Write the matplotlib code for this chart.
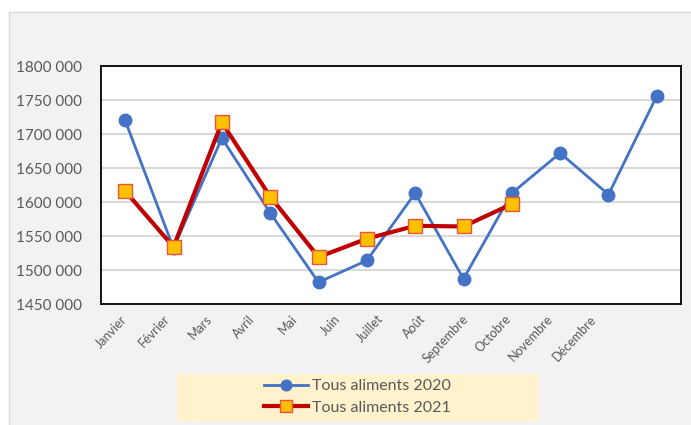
import matplotlib.pyplot as plt
import matplotlib.transforms as mtransforms
from matplotlib.patches import Rectangle
from matplotlib.ticker import FuncFormatter

plt.rcParams['font.family'] = ['Lato', 'DejaVu Sans']

mois = ['Janvier', 'Février', 'Mars', 'Avril', 'Mai', 'Juin', 'Juillet',
        'Août', 'Septembre', 'Octobre', 'Novembre', 'Décembre']
aliments_2020 = [1720000, 1532000, 1694000, 1584000, 1482000, 1514000,
                 1613000, 1487000, 1613000, 1672000, 1611000, 1756000]
aliments_2021 = [1616000, 1534000, 1717000, 1608000, 1519000, 1546000,
                 1565000, 1564000, 1597000]

W, H = 691, 425
gris_texte = '#595959'


def format_fr(v, pos):
    v = int(round(v))
    return f'{v // 1000} {v % 1000:03d}'


fig = plt.figure(figsize=(W / 100, H / 100), dpi=100, facecolor='white')

# fond gris du graphique + cadre legende
fig.patches.append(Rectangle((9 / W, -0.1), 1.1, 1.1 - 12 / H, transform=fig.transFigure,
                             facecolor='#F2F2F2', edgecolor='#D9D9D9', lw=1, zorder=-2))
fig.patches.append(Rectangle((177 / W, 4 / H), 362 / W, 47 / H, transform=fig.transFigure,
                             facecolor='#FFF2CC', edgecolor='none', zorder=-1))

ax = fig.add_axes([101 / W, 121 / H, 580 / W, 238 / H])
ax.set_facecolor('white')

x1 = list(range(len(aliments_2020)))
x2 = list(range(len(aliments_2021)))
ax.plot(x1, aliments_2020, color='#4472C4', lw=2, marker='o', ms=9,
        label='Tous aliments 2020', zorder=3)
ax.plot(x2, aliments_2021, color='#C00000', lw=3, marker='s', ms=9.5,
        markerfacecolor='#FFC000', markeredgecolor='#E8553A', markeredgewidth=1,
        label='Tous aliments 2021', zorder=4)

ax.set_xlim(-0.5, 11.5)
ax.set_ylim(1450000, 1800000)
ax.set_yticks(range(1450000, 1800001, 50000))
ax.yaxis.set_major_formatter(FuncFormatter(format_fr))
ax.grid(axis='y', color='#D9D9D9', lw=1.5)
ax.set_axisbelow(True)
ax.tick_params(axis='y', length=0, pad=14, labelsize=11, labelcolor=gris_texte)
ax.set_xticks(x1)
ax.set_xticklabels([])
ax.tick_params(axis='x', length=0)
for s in ax.spines.values():
    s.set_color('black')
    s.set_linewidth(1.3)

# etiquettes des mois, en biais comme dans Excel
trans = mtransforms.blended_transform_factory(ax.transData, ax.transAxes)
for i, m in enumerate(mois):
    decal = mtransforms.ScaledTranslation(-5.75 * i / 100, -13 / 100, fig.dpi_scale_trans)
    ax.text(i, 0, m, transform=trans + decal, rotation=47, rotation_mode='anchor',
            ha='right', va='center', fontsize=9, color=gris_texte)

leg = fig.legend(loc='center', bbox_to_anchor=(357 / W, 1 - 397 / H), frameon=False,
                 fontsize=11.5, labelcolor=gris_texte, handlelength=2.8,
                 handletextpad=0.2, labelspacing=0.45, markerscale=0.85)

fig.savefig('out.png', dpi=100)
